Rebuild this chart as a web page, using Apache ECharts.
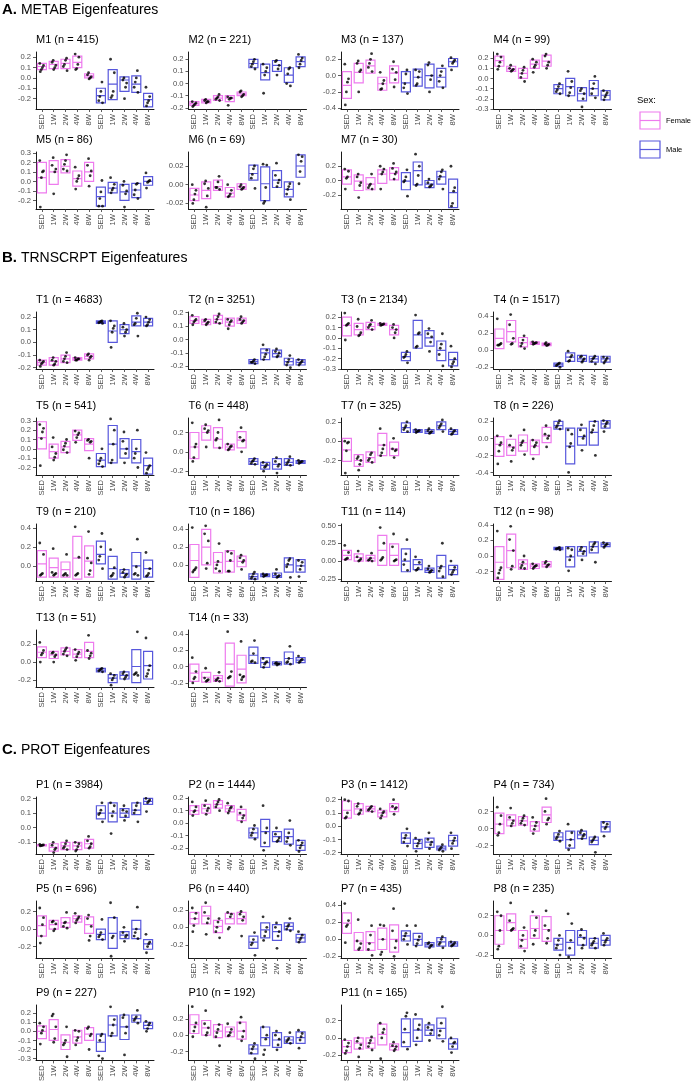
<!DOCTYPE html>
<html><head><meta charset="utf-8">
<script src="https://cdn.jsdelivr.net/npm/echarts@6/dist/echarts.min.js"></script>
<style>html,body{margin:0;padding:0;background:#fff}#c{width:692px;height:1084px}</style>
</head><body><div id="c"></div><script>
// ---------- categories ----------
const groups = ['SED','1W','2W','4W','8W','SED','1W','2W','4W','8W'];
const sexLabels = ['Female','Male'];
const sectionLetters = ['A.','B.','C.'];
const sectionNames = ['METAB Eigenfeatures','TRNSCRPT Eigenfeatures','PROT Eigenfeatures'];
const metabIds = ['M1','M2','M3','M4','M5','M6','M7'];
const metabCounts = [415,221,137,99,86,69,30];
const trnIds = ['T1','T2','T3','T4','T5','T6','T7','T8','T9','T10','T11','T12','T13','T14'];
const trnCounts = [4683,3251,2134,1517,541,448,325,226,210,186,114,98,51,33];
const protIds = ['P1','P2','P3','P4','P5','P6','P7','P8','P9','P10','P11'];
const protCounts = [3984,1444,1412,734,696,440,435,235,227,192,165];

// ---------- per panel: axis limits, ticks, boxes [low, mid, high], points ----------
const M1_lim=[-0.3,0.25], M1_ticks=[-0.2,-0.1,0,0.1,0.2];
const M1_box=[[0.08,0.11,0.14],[0.09,0.13,0.16],[0.09,0.14,0.18],[0.10,0.15,0.21],[0.00,0.02,0.04],[-0.24,-0.17,-0.10],[-0.21,-0.06,0.08],[-0.13,-0.02,0.01],[-0.14,-0.06,0.02],[-0.28,-0.21,-0.15]];
const M1_pts=[[0.14,0.12,0.10,0.08,0.06],[0.17,0.15,0.12,0.10,0.08],[0.19,0.17,0.13,0.11,0.07],[0.23,0.20,0.13,0.09,0.08],[0.05,0.03,0.01,0.00,-0.01],[-0.04,-0.13,-0.18,-0.22,-0.24],[0.18,0.05,-0.13,-0.17,-0.19],[0.00,-0.02,-0.05,-0.09,-0.20],[0.07,0.00,-0.04,-0.09,-0.14],[-0.09,-0.18,-0.22,-0.24,-0.27]];

const M2_lim=[-0.21,0.26], M2_ticks=[-0.2,-0.1,0,0.1,0.2];
const M2_box=[[-0.18,-0.165,-0.15],[-0.16,-0.145,-0.13],[-0.14,-0.12,-0.10],[-0.15,-0.12,-0.10],[-0.10,-0.085,-0.07],[0.13,0.165,0.20],[0.03,0.09,0.16],[0.10,0.15,0.19],[0.01,0.07,0.13],[0.14,0.18,0.22]];
const M2_pts=[[-0.15,-0.16,-0.17,-0.18,-0.19],[-0.13,-0.14,-0.15,-0.15,-0.16],[-0.09,-0.11,-0.12,-0.13,-0.14],[-0.11,-0.12,-0.12,-0.13,-0.18],[-0.06,-0.07,-0.09,-0.10,-0.11],[0.20,0.18,0.16,0.14,0.12],[0.16,0.13,0.10,0.07,-0.08],[0.19,0.18,0.15,0.12,0.07],[0.13,0.12,0.08,0.00,-0.02],[0.24,0.21,0.19,0.16,0.13]];

const M3_lim=[-0.41,0.29], M3_ticks=[-0.4,-0.2,0,0.2];
const M3_box=[[-0.28,-0.12,0.05],[-0.09,0.04,0.15],[0.03,0.12,0.19],[-0.18,-0.10,-0.02],[-0.09,0.03,0.12],[-0.20,-0.09,0.05],[-0.13,-0.02,0.08],[-0.15,0.00,0.14],[-0.14,-0.02,0.09],[0.11,0.17,0.21]];
const M3_pts=[[0.14,-0.04,-0.08,-0.20,-0.36],[0.18,0.15,0.07,0.05,-0.20],[0.27,0.20,0.15,0.10,0.05],[0.04,-0.06,-0.10,-0.16,-0.17],[0.17,0.08,0.04,-0.05,-0.14],[0.07,0.02,-0.10,-0.15,-0.22],[0.07,0.05,-0.02,-0.10,-0.12],[0.16,0.13,0.00,-0.05,-0.20],[0.12,0.05,0.00,-0.07,-0.15],[0.22,0.19,0.17,0.15,0.07]];

const M4_lim=[-0.3,0.26], M4_ticks=[-0.3,-0.2,-0.1,0,0.1,0.2];
const M4_box=[[0.12,0.175,0.22],[0.07,0.095,0.12],[0.00,0.05,0.10],[0.10,0.14,0.18],[0.12,0.17,0.23],[-0.15,-0.10,-0.06],[-0.17,-0.08,0.00],[-0.22,-0.15,-0.09],[-0.17,-0.10,-0.02],[-0.21,-0.165,-0.12]];
const M4_pts=[[0.24,0.21,0.16,0.12,0.09],[0.13,0.10,0.09,0.08,0.07],[0.11,0.08,0.05,0.01,-0.03],[0.19,0.16,0.13,0.11,0.06],[0.24,0.22,0.16,0.13,0.10],[-0.05,-0.08,-0.11,-0.13,-0.15],[0.07,-0.03,-0.09,-0.14,-0.17],[-0.10,-0.12,-0.15,-0.20,-0.28],[0.02,-0.05,-0.10,-0.15,-0.19],[-0.12,-0.14,-0.16,-0.18,-0.21]];

const M5_lim=[-0.29,0.31], M5_ticks=[-0.2,-0.1,0,0.1,0.2,0.3];
const M5_box=[[-0.12,0.04,0.20],[-0.03,0.10,0.22],[0.09,0.16,0.23],[-0.05,0.03,0.11],[0.00,0.10,0.20],[-0.26,-0.16,-0.06],[-0.12,-0.07,-0.01],[-0.20,-0.11,-0.03],[-0.17,-0.09,-0.02],[-0.04,0.00,0.05]];
const M5_pts=[[0.22,0.11,0.10,0.04,-0.27],[0.25,0.17,0.13,0.10,-0.13],[0.28,0.22,0.18,0.13,0.11],[0.15,0.06,0.03,0.00,-0.08],[0.24,0.17,0.11,0.06,-0.05],[0.01,-0.11,-0.18,-0.26,-0.26],[0.04,-0.03,-0.07,-0.09,-0.12],[0.00,-0.04,-0.10,-0.13,-0.27],[-0.02,-0.03,-0.09,-0.14,-0.18],[0.09,0.01,0.00,-0.01,-0.07]];

const M6_lim=[-0.026,0.035], M6_ticks=[-0.02,0,0.02];
const M6_box=[[-0.017,-0.011,-0.004],[-0.015,-0.006,0.003],[-0.006,-0.002,0.005],[-0.013,-0.009,-0.003],[-0.005,-0.002,0.001],[0.005,0.012,0.021],[-0.017,0.001,0.019],[-0.003,0.005,0.015],[-0.013,-0.005,0.003],[0.008,0.020,0.032]];
const M6_pts=[[0.000,-0.006,-0.010,-0.016,-0.020],[0.004,0.001,-0.004,-0.012,-0.024],[0.009,0.003,-0.003,-0.003,-0.005],[0.000,-0.006,-0.010,-0.012,-0.013],[0.000,-0.002,-0.003,-0.004,-0.005],[0.020,0.017,0.011,0.007,-0.004],[0.022,0.021,-0.003,-0.018,-0.020],[0.023,0.010,0.005,0.002,-0.002],[0.001,-0.002,-0.005,-0.010,-0.016],[0.032,0.030,0.025,0.014,0.001]];

const M7_lim=[-0.4,0.4], M7_ticks=[-0.2,0,0.2];
const M7_box=[[-0.05,0.05,0.15],[-0.14,-0.01,0.08],[-0.13,-0.05,0.04],[-0.04,0.09,0.15],[0.01,0.10,0.18],[-0.13,-0.01,0.11],[-0.06,0.14,0.26],[-0.10,-0.05,0.00],[-0.05,0.05,0.13],[-0.38,-0.17,0.02]];
const M7_pts=[[0.16,0.13,0.05,0.03,-0.12],[0.09,0.05,-0.03,-0.07,-0.24],[0.09,-0.05,-0.07,-0.10,-0.12],[0.20,0.16,0.12,0.09,-0.12],[0.24,0.17,0.12,0.09,0.02],[0.15,0.05,0.00,-0.02,-0.22],[0.37,0.20,0.07,-0.05,-0.07],[0.02,-0.03,-0.06,-0.08,-0.09],[0.15,0.12,0.06,0.02,-0.12],[0.20,-0.10,-0.15,-0.32,-0.36]];

const T1_lim=[-0.21,0.24], T1_ticks=[-0.2,-0.1,0,0.1,0.2];
const T1_box=[[-0.18,-0.16,-0.14],[-0.18,-0.15,-0.12],[-0.16,-0.13,-0.10],[-0.14,-0.13,-0.12],[-0.13,-0.11,-0.09],[0.15,0.16,0.17],[0.00,0.09,0.17],[0.07,0.10,0.14],[0.13,0.16,0.21],[0.13,0.16,0.19]];
const T1_pts=[[-0.14,-0.15,-0.16,-0.17,-0.19],[-0.12,-0.14,-0.15,-0.17,-0.18],[-0.08,-0.11,-0.13,-0.15,-0.16],[-0.12,-0.13,-0.13,-0.14,-0.14],[-0.09,-0.10,-0.11,-0.12,-0.14],[0.17,0.165,0.16,0.155,0.15],[0.17,0.13,0.11,0.08,-0.04],[0.15,0.12,0.10,0.08,0.05],[0.23,0.19,0.15,0.14,0.05],[0.20,0.18,0.16,0.14,0.13]];

const T2_lim=[-0.22,0.205], T2_ticks=[-0.2,-0.1,0,0.1,0.2];
const T2_box=[[0.12,0.14,0.17],[0.11,0.13,0.15],[0.12,0.15,0.18],[0.10,0.13,0.16],[0.12,0.14,0.16],[-0.18,-0.165,-0.15],[-0.15,-0.10,-0.07],[-0.13,-0.105,-0.08],[-0.19,-0.165,-0.14],[-0.19,-0.17,-0.15]];
const T2_pts=[[0.18,0.15,0.14,0.13,0.11],[0.15,0.14,0.13,0.12,0.11],[0.19,0.17,0.15,0.13,0.12],[0.15,0.14,0.13,0.11,0.08],[0.17,0.15,0.14,0.13,0.12],[-0.15,-0.16,-0.17,-0.17,-0.18],[-0.04,-0.08,-0.11,-0.13,-0.15],[-0.07,-0.09,-0.10,-0.12,-0.13],[-0.12,-0.15,-0.17,-0.19,-0.21],[-0.15,-0.16,-0.17,-0.18,-0.19]];

const T3_lim=[-0.3,0.25], T3_ticks=[-0.3,-0.2,-0.1,0,0.1,0.2];
const T3_box=[[0.02,0.12,0.20],[0.03,0.08,0.14],[0.08,0.11,0.15],[0.12,0.13,0.14],[0.03,0.08,0.12],[-0.22,-0.18,-0.14],[-0.10,0.03,0.17],[-0.08,0.00,0.07],[-0.22,-0.12,-0.03],[-0.27,-0.21,-0.14]];
const T3_pts=[[0.24,0.14,0.13,0.12,-0.02],[0.18,0.11,0.05,0.03,0.02],[0.17,0.13,0.12,0.10,0.08],[0.14,0.135,0.13,0.125,0.12],[0.13,0.10,0.08,0.05,0.00],[-0.13,-0.16,-0.18,-0.19,-0.24],[0.22,0.05,0.04,-0.08,-0.09],[0.09,0.04,0.01,-0.04,-0.13],[0.04,-0.06,-0.10,-0.16,-0.27],[-0.08,-0.20,-0.23,-0.25,-0.28]];

const T4_lim=[-0.22,0.45], T4_ticks=[-0.2,0,0.2,0.4];
const T4_box=[[0.02,0.14,0.25],[0.10,0.22,0.35],[0.04,0.09,0.15],[0.07,0.085,0.10],[0.055,0.07,0.085],[-0.19,-0.17,-0.15],[-0.13,-0.08,-0.03],[-0.13,-0.10,-0.06],[-0.14,-0.10,-0.07],[-0.14,-0.10,-0.07]];
const T4_pts=[[0.37,0.08,0.07,0.06,0.06],[0.42,0.30,0.14,0.08,0.07],[0.17,0.12,0.08,0.05,0.02],[0.10,0.09,0.085,0.08,0.07],[0.09,0.075,0.07,0.06,0.055],[-0.15,-0.16,-0.17,-0.18,-0.20],[-0.01,-0.06,-0.08,-0.12,-0.13],[-0.07,-0.08,-0.10,-0.12,-0.14],[-0.07,-0.09,-0.10,-0.13,-0.16],[-0.08,-0.09,-0.11,-0.13,-0.15]];

const T5_lim=[-0.28,0.33], T5_ticks=[-0.2,-0.1,0,0.1,0.2,0.3];
const T5_box=[[0.00,0.12,0.29],[-0.10,-0.03,0.05],[-0.04,0.02,0.08],[0.09,0.15,0.20],[-0.02,0.05,0.11],[-0.19,-0.12,-0.05],[-0.15,0.05,0.25],[-0.10,0.00,0.11],[-0.15,-0.03,0.10],[-0.27,-0.18,-0.10]];
const T5_pts=[[0.26,0.22,0.18,0.11,-0.18],[0.12,0.02,-0.05,-0.09,-0.12],[0.10,0.06,0.03,-0.01,-0.04],[0.19,0.17,0.15,0.12,0.07],[0.10,0.09,0.08,0.07,-0.10],[0.00,-0.10,-0.13,-0.16,-0.19],[0.32,0.20,0.05,-0.12,-0.15],[0.18,0.08,0.00,-0.05,-0.15],[0.20,0.00,-0.05,-0.10,-0.20],[-0.04,-0.18,-0.20,-0.22,-0.26]];

const T6_lim=[-0.24,0.35], T6_ticks=[-0.2,0,0.2];
const T6_box=[[-0.07,0.05,0.20],[0.12,0.20,0.27],[0.04,0.13,0.25],[0.02,0.05,0.08],[0.04,0.12,0.21],[-0.13,-0.10,-0.07],[-0.18,-0.14,-0.11],[-0.18,-0.13,-0.07],[-0.14,-0.11,-0.07],[-0.12,-0.105,-0.09]];
const T6_pts=[[0.30,0.08,0.05,-0.06,-0.10],[0.28,0.24,0.22,0.20,0.05],[0.33,0.20,0.14,0.12,0.04],[0.08,0.06,0.05,0.03,0.02],[0.25,0.15,0.12,0.11,0.00],[-0.07,-0.09,-0.10,-0.12,-0.13],[-0.11,-0.13,-0.15,-0.16,-0.20],[-0.06,-0.10,-0.13,-0.15,-0.22],[-0.05,-0.09,-0.11,-0.13,-0.14],[-0.09,-0.10,-0.105,-0.11,-0.12]];

const T7_lim=[-0.35,0.24], T7_ticks=[-0.2,0,0.2];
const T7_box=[[-0.21,-0.09,0.03],[-0.26,-0.20,-0.14],[-0.22,-0.17,-0.11],[-0.15,-0.04,0.08],[-0.15,-0.08,-0.01],[0.09,0.14,0.19],[0.09,0.105,0.12],[0.08,0.10,0.12],[0.12,0.16,0.20],[0.07,0.10,0.12]];
const T7_pts=[[0.00,-0.01,-0.02,-0.10,-0.33],[-0.16,-0.18,-0.20,-0.24,-0.30],[-0.12,-0.14,-0.18,-0.20,-0.22],[0.13,-0.04,-0.08,-0.12,-0.15],[0.03,-0.08,-0.09,-0.10,-0.17],[0.20,0.16,0.14,0.12,0.10],[0.12,0.11,0.105,0.10,0.09],[0.13,0.11,0.10,0.09,0.08],[0.22,0.18,0.16,0.14,0.10],[0.13,0.11,0.10,0.08,0.07]];

const T8_lim=[-0.43,0.24], T8_ticks=[-0.4,-0.2,0,0.2];
const T8_box=[[-0.21,-0.07,0.02],[-0.20,-0.10,-0.01],[-0.15,-0.05,0.04],[-0.19,-0.09,-0.02],[-0.05,0.03,0.13],[0.11,0.15,0.20],[-0.30,-0.09,0.12],[-0.08,0.02,0.12],[-0.08,0.07,0.20],[0.12,0.17,0.21]];
const T8_pts=[[0.03,-0.05,-0.08,-0.15,-0.30],[0.03,-0.08,-0.11,-0.14,-0.27],[0.10,-0.03,-0.05,-0.08,-0.19],[-0.02,-0.05,-0.08,-0.10,-0.24],[0.15,0.05,0.03,0.00,-0.10],[0.21,0.18,0.15,0.13,0.11],[0.10,0.05,-0.06,-0.10,-0.40],[0.16,0.10,0.03,0.00,-0.14],[0.20,0.15,0.10,0.07,-0.20],[0.21,0.19,0.17,0.14,0.08]];

const T9_lim=[-0.16,0.44], T9_ticks=[0,0.2,0.4];
const T9_box=[[-0.12,0.02,0.16],[-0.12,-0.02,0.08],[-0.12,-0.04,0.04],[-0.14,0.08,0.31],[-0.12,0.05,0.21],[0.02,0.12,0.26],[-0.14,-0.03,0.10],[-0.12,-0.08,-0.04],[-0.14,0.00,0.14],[-0.12,-0.03,0.06]];
const T9_pts=[[0.24,0.12,-0.08,-0.09,-0.10],[0.18,-0.07,-0.08,-0.09,-0.10],[0.12,-0.08,-0.09,-0.10,-0.10],[0.41,0.09,-0.08,-0.09,-0.10],[0.36,0.08,0.03,-0.05,-0.09],[0.34,0.20,0.10,0.06,-0.03],[0.17,-0.02,-0.08,-0.10,-0.11],[-0.04,-0.07,-0.09,-0.10,-0.12],[0.28,-0.01,-0.08,-0.09,-0.10],[0.14,-0.03,-0.08,-0.10,-0.11]];

const T10_lim=[-0.18,0.46], T10_ticks=[0,0.2,0.4];
const T10_box=[[-0.14,0.05,0.23],[0.00,0.20,0.40],[-0.09,0.03,0.14],[-0.08,0.04,0.16],[-0.02,0.04,0.10],[-0.16,-0.13,-0.10],[-0.13,-0.115,-0.10],[-0.14,-0.12,-0.09],[-0.08,0.00,0.08],[-0.08,-0.01,0.06]];
const T10_pts=[[0.42,-0.03,-0.05,-0.06,-0.08],[0.44,0.35,0.27,0.02,-0.04],[0.24,0.04,0.00,-0.04,-0.07],[0.15,0.13,0.05,-0.07,-0.07],[0.11,0.08,0.05,0.03,-0.05],[-0.08,-0.10,-0.13,-0.15,-0.16],[-0.10,-0.11,-0.115,-0.12,-0.13],[-0.05,-0.10,-0.12,-0.13,-0.14],[0.07,0.05,0.01,-0.02,-0.14],[0.05,0.03,-0.01,-0.05,-0.13]];

const T11_lim=[-0.28,0.52], T11_ticks=[-0.25,0,0.25,0.5];
const T11_box=[[0.02,0.08,0.15],[0.00,0.05,0.10],[0.00,0.04,0.08],[-0.06,0.15,0.36],[-0.06,0.08,0.24],[-0.15,0.00,0.17],[-0.12,-0.05,0.02],[-0.16,-0.13,-0.10],[-0.24,-0.08,0.08],[-0.19,-0.12,-0.06]];
const T11_pts=[[0.22,0.12,0.04,0.03,0.02],[0.14,0.06,0.03,0.01,0.00],[0.11,0.04,0.02,0.01,0.00],[0.47,0.25,0.05,0.03,0.01],[0.38,0.20,0.02,0.01,0.00],[0.30,0.10,0.02,-0.05,-0.13],[0.06,-0.02,-0.10,-0.12,-0.13],[-0.07,-0.11,-0.13,-0.15,-0.16],[0.25,-0.07,-0.10,-0.14,-0.22],[0.00,-0.09,-0.13,-0.16,-0.19]];

const T12_lim=[-0.32,0.41], T12_ticks=[-0.2,0,0.2,0.4];
const T12_box=[[-0.30,-0.08,0.12],[-0.15,0.07,0.28],[-0.17,-0.10,-0.05],[-0.16,-0.13,-0.10],[-0.14,-0.11,-0.07],[0.08,0.095,0.11],[-0.14,-0.01,0.12],[0.00,0.06,0.12],[0.04,0.12,0.18],[0.12,0.145,0.17]];
const T12_pts=[[0.32,-0.15,-0.18,-0.22,-0.28],[0.38,0.21,0.07,-0.13,-0.17],[0.00,-0.08,-0.12,-0.15,-0.16],[-0.10,-0.12,-0.13,-0.14,-0.16],[-0.07,-0.09,-0.11,-0.12,-0.14],[0.11,0.10,0.095,0.09,0.08],[0.10,0.08,0.00,-0.05,-0.19],[0.11,0.08,0.06,0.03,-0.05],[0.17,0.15,0.12,0.08,-0.08],[0.17,0.155,0.145,0.13,0.11]];

const T13_lim=[-0.28,0.36], T13_ticks=[-0.2,0,0.2];
const T13_box=[[0.05,0.11,0.17],[0.04,0.08,0.12],[0.08,0.12,0.16],[0.05,0.09,0.14],[0.05,0.12,0.22],[-0.11,-0.09,-0.07],[-0.23,-0.18,-0.14],[-0.19,-0.15,-0.11],[-0.23,-0.05,0.14],[-0.19,-0.04,0.12]];
const T13_pts=[[0.22,0.13,0.10,0.08,0.00],[0.11,0.10,0.08,0.06,0.00],[0.16,0.14,0.12,0.09,0.07],[0.14,0.11,0.09,0.06,0.02],[0.30,0.13,0.10,0.07,0.04],[-0.07,-0.08,-0.09,-0.10,-0.11],[-0.13,-0.15,-0.18,-0.20,-0.26],[-0.11,-0.13,-0.15,-0.17,-0.19],[0.34,-0.12,-0.13,-0.14,-0.15],[0.27,-0.04,-0.09,-0.13,-0.16]];

const T14_lim=[-0.25,0.45], T14_ticks=[-0.2,0,0.2,0.4];
const T14_box=[[-0.18,-0.08,0.03],[-0.19,-0.13,-0.07],[-0.18,-0.145,-0.11],[-0.24,0.03,0.29],[-0.20,-0.03,0.14],[0.04,0.14,0.24],[-0.01,0.05,0.11],[0.02,0.04,0.06],[0.03,0.10,0.18],[0.05,0.08,0.11]];
const T14_pts=[[0.11,-0.06,-0.13,-0.15,-0.20],[-0.02,-0.14,-0.16,-0.17,-0.18],[-0.07,-0.14,-0.16,-0.17,-0.18],[0.43,-0.06,-0.12,-0.13,-0.14],[0.31,-0.10,-0.12,-0.13,-0.16],[0.32,0.16,0.07,0.06,0.05],[0.10,0.06,0.05,0.03,-0.01],[0.05,0.04,0.035,0.03,0.02],[0.25,0.10,0.06,0.05,0.03],[0.13,0.09,0.08,0.06,0.05]];

const P1_lim=[-0.18,0.21], P1_ticks=[-0.1,0,0.1,0.2];
const P1_box=[[-0.125,-0.12,-0.115],[-0.16,-0.135,-0.11],[-0.15,-0.125,-0.10],[-0.15,-0.125,-0.10],[-0.14,-0.11,-0.08],[0.06,0.10,0.15],[0.04,0.10,0.17],[0.07,0.10,0.13],[0.09,0.12,0.17],[0.16,0.18,0.20]];
const P1_pts=[[-0.115,-0.118,-0.12,-0.122,-0.125],[-0.10,-0.12,-0.14,-0.15,-0.17],[-0.09,-0.11,-0.13,-0.14,-0.15],[-0.10,-0.11,-0.13,-0.15,-0.16],[-0.06,-0.09,-0.11,-0.13,-0.14],[0.17,0.12,0.10,0.09,0.04],[0.17,0.15,0.11,0.08,-0.04],[0.15,0.12,0.11,0.08,0.05],[0.17,0.15,0.12,0.10,0.04],[0.20,0.19,0.18,0.17,0.11]];

const P2_lim=[-0.25,0.21], P2_ticks=[-0.2,-0.1,0,0.1,0.2];
const P2_box=[[0.07,0.10,0.14],[0.08,0.115,0.15],[0.12,0.15,0.18],[0.09,0.115,0.14],[0.02,0.065,0.11],[-0.12,-0.08,-0.04],[-0.19,-0.07,0.03],[-0.15,-0.11,-0.07],[-0.17,-0.11,-0.05],[-0.22,-0.18,-0.14]];
const P2_pts=[[0.17,0.13,0.10,0.09,0.06],[0.18,0.14,0.12,0.10,0.07],[0.19,0.17,0.15,0.13,0.10],[0.16,0.13,0.12,0.10,0.08],[0.13,0.08,0.06,0.04,0.01],[-0.02,-0.05,-0.08,-0.10,-0.13],[0.14,-0.04,-0.08,-0.16,-0.22],[-0.04,-0.09,-0.12,-0.14,-0.15],[0.02,-0.08,-0.12,-0.15,-0.18],[-0.14,-0.16,-0.18,-0.20,-0.23]];

const P3_lim=[-0.21,0.22], P3_ticks=[-0.2,-0.1,0,0.1,0.2];
const P3_box=[[0.06,0.12,0.19],[0.09,0.13,0.17],[0.11,0.13,0.15],[0.07,0.10,0.12],[0.11,0.14,0.17],[-0.13,-0.09,-0.05],[-0.17,-0.13,-0.10],[-0.16,-0.12,-0.09],[-0.18,-0.165,-0.15],[-0.15,-0.11,-0.07]];
const P3_pts=[[0.20,0.19,0.10,0.07,0.06],[0.17,0.15,0.12,0.10,0.09],[0.15,0.14,0.13,0.12,0.11],[0.13,0.11,0.10,0.08,0.06],[0.20,0.15,0.14,0.13,0.09],[-0.02,-0.07,-0.09,-0.12,-0.15],[-0.09,-0.11,-0.13,-0.15,-0.19],[-0.05,-0.10,-0.12,-0.14,-0.17],[-0.14,-0.16,-0.17,-0.18,-0.19],[-0.05,-0.09,-0.11,-0.13,-0.17]];

const P4_lim=[-0.3,0.37], P4_ticks=[-0.2,0,0.2];
const P4_box=[[-0.06,0.05,0.18],[0.03,0.10,0.16],[0.04,0.09,0.14],[-0.03,0.03,0.08],[0.07,0.16,0.25],[-0.14,-0.10,-0.05],[-0.23,-0.13,-0.03],[-0.12,-0.075,-0.03],[-0.19,-0.14,-0.10],[-0.04,0.02,0.08]];
const P4_pts=[[0.25,0.15,0.05,-0.05,-0.08],[0.24,0.13,0.09,0.06,0.03],[0.15,0.12,0.09,0.06,0.04],[0.13,0.07,0.03,-0.01,-0.06],[0.35,0.20,0.12,0.10,0.05],[-0.03,-0.07,-0.10,-0.12,-0.15],[0.05,-0.05,-0.13,-0.20,-0.25],[-0.02,-0.05,-0.07,-0.09,-0.12],[-0.10,-0.12,-0.14,-0.16,-0.28],[0.07,0.05,0.02,0.00,-0.09]];

const P5_lim=[-0.33,0.32], P5_ticks=[-0.2,0,0.2];
const P5_box=[[-0.08,0.04,0.15],[0.00,0.05,0.10],[0.02,0.07,0.13],[0.08,0.12,0.15],[-0.05,0.05,0.14],[-0.12,-0.06,0.00],[-0.22,-0.05,0.13],[-0.11,-0.07,-0.03],[-0.11,0.00,0.10],[-0.23,-0.17,-0.12]];
const P5_pts=[[0.24,0.13,0.05,-0.08,-0.16],[0.09,0.08,0.06,0.00,-0.02],[0.19,0.08,0.07,0.03,0.01],[0.18,0.14,0.12,0.10,0.07],[0.16,0.12,0.03,-0.08,-0.13],[0.11,-0.04,-0.07,-0.09,-0.12],[0.30,0.13,-0.08,-0.10,-0.31],[0.02,-0.04,-0.07,-0.09,-0.14],[0.25,0.00,-0.04,-0.08,-0.11],[-0.06,-0.15,-0.17,-0.20,-0.27]];

const P6_lim=[-0.35,0.30], P6_ticks=[-0.2,0,0.2];
const P6_box=[[0.04,0.10,0.17],[0.04,0.13,0.24],[-0.06,0.01,0.08],[0.04,0.10,0.16],[0.04,0.10,0.17],[-0.24,-0.17,-0.10],[-0.12,-0.03,0.05],[-0.15,-0.05,0.03],[-0.03,0.01,0.05],[-0.17,-0.12,-0.08]];
const P6_pts=[[0.22,0.16,0.10,0.02,-0.05],[0.28,0.17,0.10,0.05,-0.08],[0.10,0.06,0.00,-0.05,-0.12],[0.17,0.15,0.12,0.00,-0.02],[0.18,0.15,0.12,0.08,-0.10],[-0.06,-0.14,-0.18,-0.20,-0.32],[0.12,0.00,-0.05,-0.10,-0.15],[0.05,0.00,-0.05,-0.10,-0.24],[0.10,0.03,0.01,-0.02,-0.04],[-0.05,-0.09,-0.12,-0.14,-0.17]];

const P7_lim=[-0.22,0.45], P7_ticks=[-0.2,0,0.2,0.4];
const P7_box=[[0.07,0.19,0.31],[-0.13,-0.02,0.08],[-0.13,-0.04,0.09],[-0.12,0.00,0.13],[-0.15,0.00,0.17],[-0.02,0.04,0.10],[-0.07,0.00,0.07],[-0.09,-0.065,-0.04],[-0.08,-0.03,0.02],[-0.08,-0.055,-0.03]];
const P7_pts=[[0.42,0.22,0.17,0.15,-0.04],[0.23,-0.02,-0.05,-0.10,-0.12],[0.16,0.05,-0.05,-0.12,-0.19],[0.17,0.16,0.00,-0.15,-0.18],[0.36,0.10,-0.02,-0.10,-0.20],[0.16,0.07,0.04,0.00,-0.06],[0.16,0.03,-0.01,-0.05,-0.08],[-0.04,-0.05,-0.07,-0.08,-0.10],[0.03,0.00,-0.04,-0.06,-0.10],[-0.03,-0.04,-0.06,-0.07,-0.08]];

const P8_lim=[-0.23,0.35], P8_ticks=[-0.2,0,0.2];
const P8_box=[[-0.09,0.05,0.20],[0.05,0.13,0.22],[-0.13,-0.04,0.05],[-0.03,0.07,0.20],[-0.06,0.06,0.19],[-0.15,-0.09,-0.03],[-0.20,-0.07,0.05],[-0.10,-0.02,0.05],[-0.13,-0.08,-0.03],[-0.10,-0.05,0.00]];
const P8_pts=[[0.24,0.20,0.05,-0.11,-0.14],[0.33,0.15,0.07,0.06,0.05],[0.08,0.00,-0.05,-0.11,-0.16],[0.24,0.18,0.05,0.00,-0.09],[0.25,0.10,0.05,-0.03,-0.08],[0.00,-0.05,-0.10,-0.13,-0.20],[0.22,0.12,-0.05,-0.13,-0.22],[0.06,0.00,-0.03,-0.10,-0.13],[-0.03,-0.06,-0.08,-0.10,-0.13],[0.02,-0.03,-0.05,-0.07,-0.10]];

const P9_lim=[-0.32,0.29], P9_ticks=[-0.3,-0.2,-0.1,0,0.1,0.2];
const P9_box=[[-0.08,0.00,0.06],[-0.10,0.02,0.13],[-0.20,-0.12,-0.04],[-0.13,-0.06,0.01],[-0.10,-0.03,0.04],[-0.22,-0.12,-0.03],[-0.05,0.07,0.17],[-0.09,0.05,0.18],[0.10,0.14,0.18],[0.03,0.065,0.10]];
const P9_pts=[[0.09,0.05,0.01,-0.02,-0.14],[0.19,0.17,0.05,-0.08,-0.12],[0.05,-0.10,-0.13,-0.15,-0.28],[0.01,0.00,-0.07,-0.10,-0.15],[0.05,0.03,-0.03,-0.05,-0.20],[-0.03,-0.05,-0.10,-0.27,-0.30],[0.27,0.13,0.07,-0.02,-0.05],[0.18,0.15,0.05,-0.02,-0.26],[0.23,0.16,0.14,0.12,0.09],[0.11,0.09,0.07,0.03,0.00]];

const P10_lim=[-0.31,0.37], P10_ticks=[-0.2,0,0.2];
const P10_box=[[0.02,0.13,0.25],[0.00,0.09,0.18],[-0.03,0.05,0.13],[-0.02,0.04,0.10],[-0.05,0.05,0.16],[-0.23,-0.17,-0.12],[-0.13,-0.03,0.10],[-0.15,-0.06,0.03],[-0.10,-0.06,-0.02],[-0.10,-0.03,0.04]];
const P10_pts=[[0.35,0.15,0.10,0.05,-0.02],[0.30,0.14,0.09,0.03,0.00],[0.13,0.07,0.03,-0.02,-0.13],[0.14,0.07,0.03,0.00,-0.01],[0.22,0.15,0.05,-0.02,-0.07],[-0.10,-0.14,-0.17,-0.22,-0.29],[0.10,0.00,-0.05,-0.18,-0.24],[0.05,0.00,-0.05,-0.12,-0.18],[0.03,-0.04,-0.06,-0.08,-0.10],[0.06,0.02,-0.02,-0.06,-0.16]];

const P11_lim=[-0.26,0.38], P11_ticks=[-0.2,0,0.2];
const P11_box=[[-0.17,-0.10,-0.03],[-0.13,-0.06,0.00],[-0.12,-0.06,0.00],[-0.08,0.04,0.16],[-0.14,-0.10,-0.07],[-0.10,0.06,0.22],[-0.04,0.09,0.22],[0.03,0.09,0.15],[-0.01,0.11,0.23],[-0.13,-0.07,-0.01]];
const P11_pts=[[-0.02,-0.06,-0.10,-0.15,-0.18],[0.00,-0.04,-0.08,-0.12,-0.22],[0.01,-0.03,-0.06,-0.10,-0.14],[0.17,0.10,0.06,0.00,-0.24],[-0.05,-0.09,-0.10,-0.13,-0.15],[0.29,0.25,0.10,-0.05,-0.13],[0.27,0.15,0.10,0.00,-0.08],[0.17,0.12,0.09,0.05,-0.03],[0.36,0.17,0.08,0.03,-0.04],[0.00,-0.05,-0.06,-0.10,-0.17]];

// ---------- tables built from the arrays ----------
const sections = [
  {ids: metabIds, counts: metabCounts,
   lims:[M1_lim,M2_lim,M3_lim,M4_lim,M5_lim,M6_lim,M7_lim],
   ticks:[M1_ticks,M2_ticks,M3_ticks,M4_ticks,M5_ticks,M6_ticks,M7_ticks],
   boxes:[M1_box,M2_box,M3_box,M4_box,M5_box,M6_box,M7_box],
   pts:[M1_pts,M2_pts,M3_pts,M4_pts,M5_pts,M6_pts,M7_pts]},
  {ids: trnIds, counts: trnCounts,
   lims:[T1_lim,T2_lim,T3_lim,T4_lim,T5_lim,T6_lim,T7_lim,T8_lim,T9_lim,T10_lim,T11_lim,T12_lim,T13_lim,T14_lim],
   ticks:[T1_ticks,T2_ticks,T3_ticks,T4_ticks,T5_ticks,T6_ticks,T7_ticks,T8_ticks,T9_ticks,T10_ticks,T11_ticks,T12_ticks,T13_ticks,T14_ticks],
   boxes:[T1_box,T2_box,T3_box,T4_box,T5_box,T6_box,T7_box,T8_box,T9_box,T10_box,T11_box,T12_box,T13_box,T14_box],
   pts:[T1_pts,T2_pts,T3_pts,T4_pts,T5_pts,T6_pts,T7_pts,T8_pts,T9_pts,T10_pts,T11_pts,T12_pts,T13_pts,T14_pts]},
  {ids: protIds, counts: protCounts,
   lims:[P1_lim,P2_lim,P3_lim,P4_lim,P5_lim,P6_lim,P7_lim,P8_lim,P9_lim,P10_lim,P11_lim],
   ticks:[P1_ticks,P2_ticks,P3_ticks,P4_ticks,P5_ticks,P6_ticks,P7_ticks,P8_ticks,P9_ticks,P10_ticks,P11_ticks],
   boxes:[P1_box,P2_box,P3_box,P4_box,P5_box,P6_box,P7_box,P8_box,P9_box,P10_box,P11_box],
   pts:[P1_pts,P2_pts,P3_pts,P4_pts,P5_pts,P6_pts,P7_pts,P8_pts,P9_pts,P10_pts,P11_pts]}
];

// ---------- layout & style ----------
const FONT = '"Liberation Sans", Arial, Helvetica, sans-serif';
const COLF = '#EE7BEE', COLM = '#5757DC';
const COL_LEFT = 36, COL_PITCH = 152.5, PW = 118, PH = 57;
const sectionTitleY = [10, 258, 750];
const rowTitleY = [[40, 140], [300, 406, 512, 618], [785, 889, 993]];

function decimalsOf(ticks){
  let d = 1;
  ticks.forEach(t => { const s = String(Math.abs(t)); const i = s.indexOf('.'); if (i >= 0) d = Math.max(d, s.length - i - 1); });
  return d;
}

const option = {animation:false, backgroundColor:'#ffffff', grid:[], xAxis:[], yAxis:[], series:[], graphic:[]};
let gi = 0;
sections.forEach((sec, si) => {
  option.graphic.push({type:'text', x:2, y:sectionTitleY[si], silent:true,
    style:{text:'{b|' + sectionLetters[si] + '} ' + sectionNames[si], fontSize:14, fontFamily:FONT, fill:'#000', verticalAlign:'middle',
      rich:{b:{fontSize:15, fontWeight:'bold', fontFamily:FONT, fill:'#000'}}}});
  sec.ids.forEach((id, pi) => {
    const row = Math.floor(pi / 4), col = pi % 4;
    const ty = rowTitleY[si][row];
    const left = COL_LEFT + COL_PITCH * col;
    const top = ty + 12;
    const ticks = sec.ticks[pi], lim = sec.lims[pi], dec = decimalsOf(ticks);
    option.grid.push({left:left, top:top, width:PW, height:PH});
    option.xAxis.push({gridIndex:gi, type:'category', data:groups, boundaryGap:true, position:'bottom',
      axisLine:{show:true, onZero:false, lineStyle:{color:'#000', width:0.9}},
      axisTick:{show:true, alignWithLabel:true, length:3, lineStyle:{color:'#333', width:0.8}},
      axisLabel:{interval:0, rotate:90, fontSize:7.6, color:'#4D4D4D', fontFamily:FONT, margin:5},
      splitLine:{show:false}});
    option.xAxis.push({gridIndex:gi, type:'value', min:-0.5, max:9.5, show:false});
    option.yAxis.push({gridIndex:gi, type:'value', min:lim[0], max:lim[1], position:'left',
      axisLine:{show:true, onZero:false, lineStyle:{color:'#000', width:0.9}},
      axisTick:{show:true, length:3, customValues:ticks, lineStyle:{color:'#333', width:0.8}},
      axisLabel:{customValues:ticks, fontSize:7.6, color:'#4D4D4D', fontFamily:FONT, margin:5,
        formatter: v => (Math.abs(v) < 1e-9 ? 0 : v).toFixed(dec)},
      splitLine:{show:false}});
    option.series.push({type:'boxplot', xAxisIndex:2*gi, yAxisIndex:gi, silent:true, boxWidth:[9,9],
      itemStyle:{color:'rgba(255,255,255,0)', borderWidth:1.2},
      emphasis:{disabled:true},
      data: sec.boxes[pi].map((b, g) => ({value:[b[0], b[0], b[1], b[2], b[2]],
        itemStyle:{color:'rgba(255,255,255,0)', borderColor: g < 5 ? COLF : COLM, borderWidth:1.2}}))});
    const pts = [];
    sec.pts[pi].forEach((arr, g) => arr.forEach((v, k) => {
      const jit = (((g * 3 + k * 7) % 9) - 4) * 0.045;
      pts.push([g + jit, v]);
    }));
    option.series.push({type:'scatter', xAxisIndex:2*gi+1, yAxisIndex:gi, silent:true,
      symbol:'circle', symbolSize:2.8, itemStyle:{color:'#000'}, data:pts, z:3});
    option.graphic.push({type:'text', x:left, y:ty, silent:true,
      style:{text:id + ' (n = ' + sec.counts[pi] + ')', fontSize:11, fontFamily:FONT, fill:'#000', verticalAlign:'middle'}});
    gi++;
  });
});

// legend (Sex)
option.graphic.push({type:'text', x:637, y:100, silent:true, style:{text:'Sex:', fontSize:9.5, fontFamily:FONT, fill:'#000', verticalAlign:'middle'}});
[[COLF, 112], [COLM, 141]].forEach((c, i) => {
  option.graphic.push({type:'rect', silent:true, shape:{x:640, y:c[1], width:20, height:17}, style:{fill:'none', stroke:c[0], lineWidth:1.2}});
  option.graphic.push({type:'line', silent:true, shape:{x1:640, y1:c[1]+8.5, x2:660, y2:c[1]+8.5}, style:{stroke:c[0], lineWidth:1.2}});
  option.graphic.push({type:'text', x:666, y:c[1]+8.5, silent:true, style:{text:sexLabels[i], fontSize:7.5, fontFamily:FONT, fill:'#000', verticalAlign:'middle'}});
});

const chart = echarts.init(document.getElementById('c'), null, {renderer:'canvas'});
chart.setOption(option);
</script></body></html>
